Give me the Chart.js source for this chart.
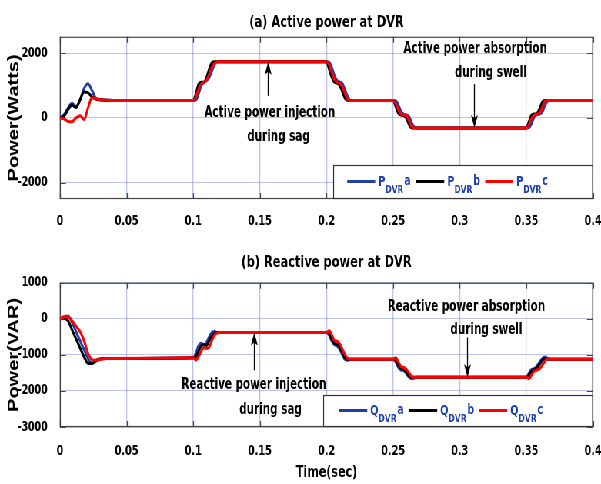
<!DOCTYPE html>
<html>
<head>
<meta charset="utf-8">
<title>DVR power</title>
<script src="https://cdn.jsdelivr.net/npm/chart.js@4.4.0/dist/chart.umd.min.js"></script>
<style>
  html, body { margin: 0; padding: 0; background: #fff; overflow: hidden; }
  /* se dibuja mas ancho y se comprime en horizontal: letra estrecha */
  #wrap { position: relative; width: 781px; height: 484px; transform: scaleX(0.76953); transform-origin: 0 0; }
  #activeChart { position: absolute; left: 0; top: 0; }
  #reactiveChart { position: absolute; left: 0; top: 240px; }
</style>
</head>
<body>
<div id="wrap">
  <canvas id="activeChart" width="781" height="240"></canvas>
  <canvas id="reactiveChart" width="781" height="244"></canvas>
</div>
<script>
// instantes de muestreo (s)
const time = [
  0, 0.003, 0.006, 0.009, 0.012, 0.015, 0.018, 0.021, 0.024, 0.027, 0.03, 0.035, 0.04,
  0.1, 0.102, 0.104, 0.106, 0.108, 0.11, 0.112, 0.114, 0.116, 0.118, 0.12,
  0.2, 0.202, 0.204, 0.206, 0.208, 0.21, 0.212, 0.214, 0.216, 0.218, 0.22,
  0.25, 0.252, 0.254, 0.256, 0.258, 0.26, 0.262, 0.264, 0.266, 0.268, 0.27,
  0.35, 0.352, 0.354, 0.356, 0.358, 0.36, 0.362, 0.364, 0.366, 0.368, 0.37,
  0.4
];

// potencia activa por fase (W)
const pA = [
  0, 100, 300, 450, 350, 550, 900, 1050, 850, 600, 560, 545, 540,
  540, 550, 740, 1000, 1100, 1150, 1250, 1450, 1650, 1730, 1730,
  1730, 1720, 1550, 1300, 1150, 1100, 1050, 850, 650, 540, 540,
  540, 530, 390, 190, 110, 90, 40, -160, -290, -310, -310,
  -310, -300, -160, 40, 100, 120, 190, 390, 520, 540, 540,
  540
];
const pB = [
  0, 50, 250, 400, 320, 550, 800, 780, 650, 580, 560, 545, 540,
  540, 740, 1040, 1100, 1100, 1250, 1500, 1700, 1730, 1730, 1730,
  1730, 1500, 1250, 1100, 1070, 1000, 800, 600, 540, 540, 540,
  540, 340, 140, 90, 70, -10, -210, -310, -310, -310, -310,
  -310, -110, 90, 120, 140, 290, 490, 540, 540, 540, 540,
  540
];
const pC = [
  0, -30, -110, -120, 0, 70, -50, 300, 620, 600, 560, 545, 540,
  540, 640, 890, 1040, 1100, 1150, 1350, 1550, 1680, 1730, 1730,
  1730, 1650, 1400, 1200, 1100, 1070, 950, 750, 570, 540, 540,
  540, 440, 240, 120, 90, 70, -90, -260, -310, -310, -310,
  -310, -210, -10, 90, 120, 140, 340, 510, 540, 540, 540,
  540
];

// potencia reactiva por fase (VAR)
const qA = [
  0, 60, 80, -100, -350, -600, -850, -1100, -1230, -1180, -1120, -1100, -1100,
  -1080, -950, -750, -680, -720, -650, -500, -380, -350, -380, -380,
  -380, -450, -620, -720, -750, -850, -1000, -1130, -1150, -1120, -1120,
  -1120, -1200, -1350, -1420, -1440, -1520, -1620, -1660, -1640, -1620, -1620,
  -1620, -1500, -1400, -1380, -1300, -1200, -1100, -1060, -1100, -1120, -1120,
  -1120
];
const qB = [
  0, 20, -50, -300, -550, -800, -1050, -1230, -1240, -1150, -1110, -1100, -1100,
  -1080, -1050, -900, -750, -720, -740, -600, -480, -400, -380, -380,
  -380, -400, -550, -680, -700, -800, -950, -1080, -1120, -1120, -1120,
  -1120, -1150, -1280, -1380, -1400, -1480, -1580, -1620, -1620, -1620, -1620,
  -1620, -1560, -1450, -1400, -1350, -1250, -1150, -1100, -1120, -1120, -1120,
  -1120
];
const qC = [
  0, 50, 60, -50, -200, -350, -600, -950, -1130, -1150, -1120, -1100, -1100,
  -1080, -1140, -1050, -900, -800, -820, -780, -600, -450, -390, -380,
  -380, -330, -450, -600, -620, -700, -850, -1000, -1100, -1120, -1120,
  -1120, -1080, -1200, -1330, -1350, -1400, -1500, -1600, -1620, -1620, -1620,
  -1620, -1660, -1550, -1450, -1420, -1380, -1280, -1180, -1100, -1120, -1120,
  -1120
];

const timeTicks = [0, 0.05, 0.1, 0.15, 0.2, 0.25, 0.3, 0.35, 0.4];
const pTicks = [-2000, 0, 2000];
const qTicks = [-3000, -2000, -1000, 0, 1000];
const phases = ['a', 'b', 'c'];

// factor de ensanchado horizontal del lienzo (ver #wrap)
const K = 781 / 601;
const phaseColors = ['#1f3fa5', '#000000', '#ff0000'];
const gridColor = 'rgba(120, 135, 210, 0.5)';
const narrow = "'DejaVu Sans Condensed', 'DejaVu Sans', sans-serif";

// marco con marcas hacia dentro
const framePlugin = {
  id: 'frame',
  beforeDatasetsDraw(chart) {
    const {ctx, chartArea: a, scales: {x, y}} = chart;
    ctx.save();
    ctx.strokeStyle = '#444';
    ctx.lineWidth = 1.2;
    ctx.strokeRect(a.left + 0.5, a.top + 0.5, a.width - 1, a.height - 1);
    ctx.beginPath();
    x.ticks.forEach(t => {
      const px = Math.round(x.getPixelForValue(t.value)) + 0.5;
      ctx.moveTo(px, a.top); ctx.lineTo(px, a.top + 6);
      ctx.moveTo(px, a.bottom); ctx.lineTo(px, a.bottom - 6);
    });
    y.ticks.forEach(t => {
      const py = Math.round(y.getPixelForValue(t.value)) + 0.5;
      ctx.moveTo(a.left, py); ctx.lineTo(a.left + 6 * K, py);
      ctx.moveTo(a.right, py); ctx.lineTo(a.right - 6 * K, py);
    });
    ctx.stroke();
    ctx.restore();
  }
};

// leyenda P_DVR a / b / c dentro del area
const legendPlugin = {
  id: 'phaseLegend',
  afterDraw(chart, args, opts) {
    const {ctx, chartArea: a} = chart;
    const w = opts.width * K;
    const right = a.right - 1, bottom = a.bottom - 1;
    const left = right - w, top = bottom - opts.height;
    const cy = top + opts.height / 2;
    ctx.save();
    ctx.fillStyle = '#fff';
    ctx.fillRect(left, top, w, opts.height);
    ctx.strokeStyle = '#333';
    ctx.lineWidth = 1.2;
    ctx.strokeRect(left + 0.5, top + 0.5, w, opts.height);
    chart.data.datasets.forEach((ds, i) => {
      let x = left + (opts.offset + i * opts.spacing) * K;
      ctx.strokeStyle = ds.borderColor;
      ctx.lineWidth = 3;
      ctx.beginPath();
      ctx.moveTo(x, cy); ctx.lineTo(x + 28 * K, cy);
      ctx.stroke();
      x += 31 * K;
      ctx.fillStyle = '#2040b0';
      ctx.textBaseline = 'alphabetic';
      ctx.textAlign = 'left';
      ctx.font = 'bold 14px ' + narrow;
      ctx.fillText(opts.letter, x, cy + 4);
      x += ctx.measureText(opts.letter).width;
      ctx.font = 'bold 11px ' + narrow;
      ctx.fillText('DVR', x, cy + 11);
      x += ctx.measureText('DVR').width + 1;
      ctx.font = 'bold 14px ' + narrow;
      ctx.fillText(phases[i], x, cy + 3);
    });
    ctx.restore();
  }
};

// textos y flechas explicativas
const notesPlugin = {
  id: 'notes',
  afterDraw(chart, args, opts) {
    const {ctx, scales: {x, y}} = chart;
    ctx.save();
    ctx.fillStyle = '#000';
    ctx.strokeStyle = '#000';
    ctx.font = 'bold 15px ' + narrow;
    ctx.textAlign = 'center';
    ctx.textBaseline = 'middle';
    opts.labels.forEach(l => {
      ctx.fillText(l.text, x.getPixelForValue(l.t), y.getPixelForValue(l.v));
    });
    opts.arrows.forEach(ar => {
      const px = Math.round(x.getPixelForValue(ar.t)) + 0.5;
      const y0 = y.getPixelForValue(ar.from), y1 = y.getPixelForValue(ar.to);
      const dir = y1 < y0 ? 1 : -1;
      ctx.lineWidth = 1.3;
      ctx.beginPath();
      ctx.moveTo(px, y0); ctx.lineTo(px, y1 + dir * 8);
      ctx.stroke();
      ctx.beginPath();
      ctx.moveTo(px, y1);
      ctx.lineTo(px - 4.5, y1 + dir * 13);
      ctx.lineTo(px, y1 + dir * 10);
      ctx.lineTo(px + 4.5, y1 + dir * 13);
      ctx.closePath();
      ctx.fill();
    });
    ctx.restore();
  }
};

function buildChart(id, cfg) {
  return new Chart(document.getElementById(id), {
    type: 'line',
    data: {
      datasets: cfg.series.map((vals, i) => ({
        label: cfg.letter + 'DVR' + phases[i],
        data: time.map((t, k) => ({x: t, y: vals[k]})),
        borderColor: phaseColors[i],
        borderWidth: 3,
        pointRadius: 0,
        cubicInterpolationMode: 'monotone',
        order: 2 - i
      }))
    },
    options: {
      responsive: false,
      animation: false,
      layout: {padding: 0},
      plugins: {
        legend: {display: false},
        tooltip: {enabled: false},
        title: {
          display: true,
          text: cfg.title,
          fullSize: false,
          color: '#000',
          font: {family: narrow, size: 16.5, weight: 'bold'},
          padding: {top: 13, bottom: cfg.titleGap}
        },
        phaseLegend: cfg.legend,
        notes: cfg.notes
      },
      scales: {
        x: {
          type: 'linear',
          min: 0,
          max: 0.4,
          afterBuildTicks: s => { s.ticks = timeTicks.map(v => ({value: v})); },
          afterFit: s => { s.height = cfg.xHeight; s.paddingLeft = 0; s.paddingRight = 8 * K; },
          grid: {color: gridColor, lineWidth: 1.3, drawTicks: false},
          border: {display: false},
          ticks: {
            color: '#000',
            padding: cfg.xPad,
            maxRotation: 0,
            font: {family: narrow, size: 14, weight: 'bold'},
            callback: v => String(Math.round(v * 100) / 100)
          },
          title: cfg.xTitle
        },
        y: {
          min: cfg.yMin,
          max: cfg.yMax,
          afterBuildTicks: s => { s.ticks = cfg.yTicks.map(v => ({value: v})); },
          afterFit: s => { s.width = 60 * K; s.paddingTop = 0; s.paddingBottom = 0; },
          grid: {color: gridColor, drawTicks: false},
          border: {display: false},
          ticks: {
            color: '#000',
            padding: 16,
            font: {family: narrow, size: 13.5, weight: 'bold'},
            callback: v => String(v)
          },
          title: {
            display: true,
            text: cfg.yLabel,
            color: '#000',
            font: {family: "'Liberation Sans', Arial, sans-serif", size: 20, weight: 'bold'},
            padding: {top: 6, bottom: 0}
          }
        }
      }
    },
    plugins: [framePlugin, legendPlugin, notesPlugin]
  });
}

// (a) potencia activa
buildChart('activeChart', {
  title: '(a) Active power at DVR',
  titleGap: 4,
  letter: 'P',
  series: [pA, pB, pC],
  yMin: -2500,
  yMax: 2500,
  yTicks: pTicks,
  yLabel: 'Power(Watts)',
  xHeight: 41,
  xPad: 14,
  xTitle: {display: false},
  legend: {letter: 'P', width: 259, height: 33, offset: 14, spacing: 69},
  notes: {
    labels: [
      {text: 'Active power injection', t: 0.1575, v: 160},
      {text: 'during sag', t: 0.164, v: -590},
      {text: 'Active power absorption', t: 0.3116, v: 2110},
      {text: 'during swell', t: 0.3233, v: 1395}
    ],
    arrows: [
      {t: 0.156, from: 680, to: 1730},
      {t: 0.3105, from: 1040, to: -310}
    ]
  }
});

// (b) potencia reactiva
buildChart('reactiveChart', {
  title: '(b) Reactive power at DVR',
  titleGap: 10,
  letter: 'Q',
  series: [qA, qB, qC],
  yMin: -3000,
  yMax: 1000,
  yTicks: qTicks,
  yLabel: 'Power(VAR)',
  xHeight: 57,
  xPad: 16,
  xTitle: {
    display: true,
    text: 'Time(sec)',
    color: '#000',
    font: {family: narrow, size: 16, weight: 'bold'},
    padding: {top: 0, bottom: 2}
  },
  legend: {letter: 'Q', width: 269, height: 31, offset: 16, spacing: 70},
  notes: {
    labels: [
      {text: 'Reactive power injection', t: 0.1455, v: -1841},
      {text: 'during sag', t: 0.158, v: -2531},
      {text: 'Reactive power absorption', t: 0.305, v: 338},
      {text: 'during swell', t: 0.320, v: -324}
    ],
    arrows: [
      {t: 0.1455, from: -1428, to: -380},
      {t: 0.3053, from: -516, to: -1620}
    ]
  }
});
</script>
</body>
</html>
